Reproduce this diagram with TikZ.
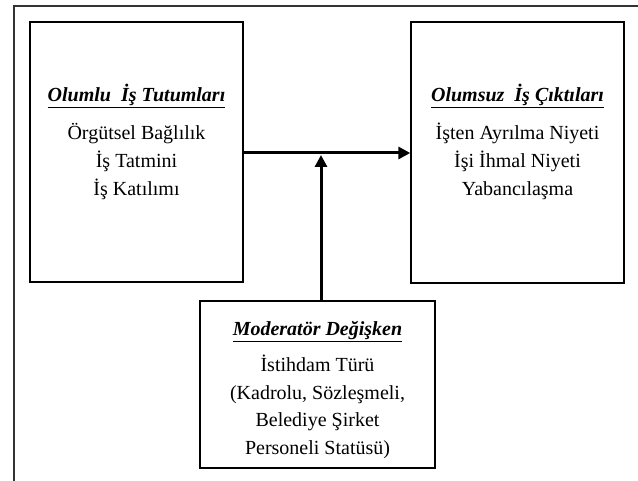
\documentclass[tikz,border=0pt]{standalone}
\usepackage{fontspec}
\setmainfont{Liberation Serif}
\usetikzlibrary{arrows.meta}
\tikzset{
  box/.style={draw=black, line width=1.4pt, inner sep=0pt, fill=none},
  txt/.style={anchor=base, inner sep=0pt, font=\fontsize{20}{24}\selectfont},
  ttl/.style={txt, font=\fontsize{20}{24}\selectfont\bfseries\itshape},
  arr/.style={line width=3pt, -{Triangle[length=12pt,width=12pt]}},
  frame/.style={draw=black!80, line width=1.1pt}
}
\newcommand{\ul}[1]{\underline{#1}}
\begin{document}
\begin{tikzpicture}[x=1pt,y=-1pt]
\useasboundingbox (0,0) rectangle (638,481);
% outer frame
\coordinate (fr1) at (638,6);
\coordinate (fr2) at (14,6);
\coordinate (fr3) at (14,481);
\draw[frame] (fr1) -- (fr2) -- (fr3);
% boxes
\node[box, minimum width=213pt, minimum height=260pt] (lbox) at (136.5,152) {};
\node[box, minimum width=213pt, minimum height=261pt] (rbox) at (517.5,152.5) {};
\node[box, minimum width=235pt, minimum height=167pt] (bbox) at (317.5,384.5) {};
% left texts
\node[ttl] (l0) at (136.5,102) {\ul{Olumlu\ \ İş Tutumları}};
\node[txt] (l1) at (136.5,140) {Örgütsel Bağlılık};
\node[txt] (l2) at (136.5,168) {İş Tatmini};
\node[txt] (l3) at (136.5,196) {İş Katılımı};
% right texts
\node[ttl] (r0) at (517.5,102) {\ul{Olumsuz\ \ İş Çıktıları}};
\node[txt] (r1) at (517.5,140) {İşten Ayrılma Niyeti};
\node[txt] (r2) at (517.5,168) {İşi İhmal Niyeti};
\node[txt] (r3) at (517.5,196) {Yabancılaşma};
% bottom texts
\node[ttl] (b0) at (317.5,336) {\ul{Moderatör Değişken}};
\node[txt] (b1) at (317.5,372) {İstihdam Türü};
\node[txt] (b2) at (317.5,399.5) {(Kadrolu, Sözleşmeli,};
\node[txt] (b3) at (317.5,427) {Belediye Şirket};
\node[txt] (b4) at (317.5,454.5) {Personeli Statüsü)};
% arrows
\coordinate (hy) at (0,153);
\coordinate (vx) at (321,0);
\coordinate (vtop) at (321,155);
\draw[arr] (lbox.east |- hy) -- (rbox.west |- hy);
\draw[arr] (bbox.north -| vx) -- (vtop);
\end{tikzpicture}
\end{document}
